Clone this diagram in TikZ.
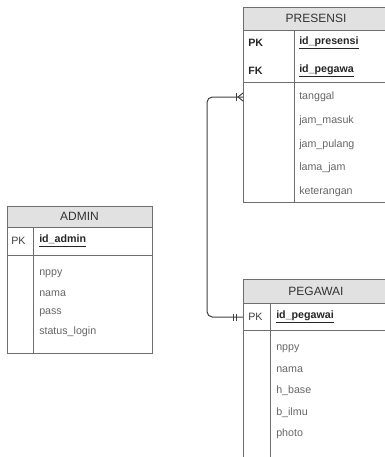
\documentclass[tikz,border=0pt]{standalone}
\usepackage{fontspec}
\setmainfont{Liberation Sans}
\definecolor{garis}{HTML}{6E6E6E}
\definecolor{kepala}{HTML}{E1E1E1}
\definecolor{isi}{HTML}{666666}

\begin{document}
\begin{tikzpicture}[x=0.75pt, y=-0.75pt,
    judul/.style={font=\fontsize{9}{10}\selectfont, text=black!80},
    kunci/.style={anchor=west, inner sep=0pt, font=\fontsize{8}{9}\selectfont\bfseries, text=black!85},
    tandaPK/.style={anchor=west, inner sep=0pt, font=\fontsize{8}{9}\selectfont, text=black!75},
    kolom/.style={anchor=west, inner sep=0pt, font=\fontsize{8}{9}\selectfont, text=isi},
    relasi/.style={draw=black!75, line width=0.75pt}] %erd
            \useasboundingbox (0,0) rectangle (385,457);
            \clip (0,0) rectangle (385,457);

            % ADMIN
            \coordinate (admin) at (7,206);
            \filldraw[fill=kepala, draw=garis, line width=0.75pt] (admin) rectangle (152,227);
            \draw[garis, line width=0.75pt] (7,227) rectangle (152,353);
            \draw[garis, line width=0.75pt] (7,255) -- (152,255);
            \draw[garis, line width=0.75pt] (33,227) -- (33,353);
            \node[judul] (judulAdmin) at (79.5,216.5) {ADMIN};
            \node[tandaPK] (pkAdmin) at (11,241) {PK};
            \node[kunci] (idAdmin) at (39,241) {\underline{id\_admin}};
            \node[kolom] (nppyAdmin) at (39,274) {nppy};
            \node[kolom] (namaAdmin) at (39,294) {nama};
            \node[kolom] (pass) at (39,313) {pass};
            \node[kolom] (statusLogin) at (39,332) {status\_login};

            % PRESENSI
            \coordinate (presensi) at (243,7);
            \filldraw[fill=kepala, draw=garis, line width=0.75pt] (presensi) rectangle (389,30);
            \draw[garis, line width=0.75pt] (243,30) rectangle (389,202);
            \draw[garis, line width=0.75pt] (243,82) -- (389,82);
            \draw[garis, line width=0.75pt] (294,30) -- (294,202);
            \node[judul] (judulPresensi) at (316,18.5) {PRESENSI};
            \node[kunci] (pkPresensi) at (248,43) {PK};
            \node[kunci] (fkPresensi) at (248,71) {FK};
            \node[kunci] (idPresensi) at (299,43) {\underline{id\_presensi}};
            \node[kunci] (idPegawa) at (299,71) {\underline{id\_pegawa}};
            \node[kolom] (tanggal) at (299,97) {tanggal};
            \node[kolom] (jamMasuk) at (299,121) {jam\_masuk};
            \node[kolom] (jamPulang) at (299,144.5) {jam\_pulang};
            \node[kolom] (lamaJam) at (299,168) {lama\_jam};
            \node[kolom] (keterangan) at (299,192) {keterangan};

            % PEGAWAI
            \coordinate (pegawai) at (243,279);
            \filldraw[fill=kepala, draw=garis, line width=0.75pt] (pegawai) rectangle (389,303);
            \draw[garis, line width=0.75pt] (243,303) rectangle (389,470);
            \draw[garis, line width=0.75pt] (243,330) -- (389,330);
            \draw[garis, line width=0.75pt] (270,303) -- (270,470);
            \node[judul] (judulPegawai) at (316,291) {PEGAWAI};
            \node[tandaPK] (pkPegawai) at (248,317) {PK};
            \node[kunci] (idPegawai) at (276,317) {\underline{id\_pegawai}};
            \node[kolom] (nppyPegawai) at (276,349) {nppy};
            \node[kolom] (namaPegawai) at (276,370) {nama};
            \node[kolom] (hBase) at (276,391) {h\_base};
            \node[kolom] (bIlmu) at (276,412.5) {b\_ilmu};
            \node[kolom] (photo) at (276,434) {photo};

            % relasi pegawai - presensi
            \draw[relasi, rounded corners=4pt] (idPegawai -| pegawai) -- ++(-36,0) |- (tanggal -| presensi);
            \draw[relasi] (idPegawai -| pegawai) ++(-7,-3.5) -- ++(0,7);
            \draw[relasi] (idPegawai -| pegawai) ++(-9.5,-3.5) -- ++(0,7);
            \draw[relasi] (tanggal -| presensi) ++(0,-4) -- ++(-5,4) -- ++(5,4);
            \draw[relasi] (tanggal -| presensi) ++(-7,-4) -- ++(0,8);
        \end{tikzpicture}
\end{document}
